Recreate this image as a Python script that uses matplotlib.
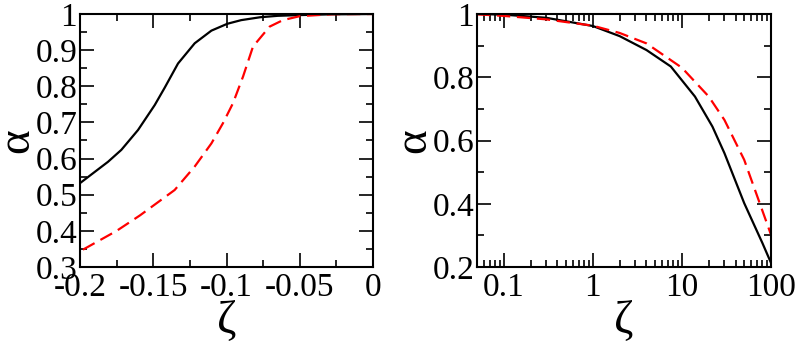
import numpy as np
import matplotlib
matplotlib.use('Agg')
import matplotlib.pyplot as plt
from matplotlib.ticker import MultipleLocator, LogLocator, FixedLocator, FixedFormatter, NullFormatter

plt.rcParams['font.family'] = ['Liberation Serif', 'DejaVu Serif']
plt.rcParams['axes.unicode_minus'] = False

# left panel (zeta < 0)
zl_black = [-0.2, -0.1809, -0.1718, -0.1604, -0.149, -0.1422, -0.1331, -0.1217, -0.1103,
            -0.0994, -0.09, -0.0771, -0.065, -0.05, -0.03, 0.0]
al_black = [0.532, 0.591, 0.624, 0.679, 0.748, 0.796, 0.863, 0.919, 0.954,
            0.973, 0.983, 0.991, 0.995, 0.997, 0.999, 1.0]
zl_red = [-0.198, -0.175, -0.159, -0.1354, -0.1217, -0.1103, -0.1024, -0.0956,
          -0.0887, -0.0819, -0.0706, -0.0615, -0.05, -0.0273, 0.0]
al_red = [0.348, 0.40, 0.443, 0.513, 0.578, 0.642, 0.698, 0.753,
          0.827, 0.91, 0.965, 0.983, 0.994, 0.9995, 1.0]

# right panel (zeta > 0, log scale)
zr_black = [0.05, 0.1, 0.3, 1, 2, 4, 7.5, 14, 22, 30, 50, 80, 100]
ar_black = [1.0, 0.998, 0.988, 0.962, 0.93, 0.886, 0.834, 0.739, 0.644, 0.56, 0.402, 0.276, 0.213]
zr_red = [0.05, 0.1, 0.3, 1, 2, 4, 10, 20, 30, 50, 100]
ar_red = [0.999, 0.994, 0.983, 0.963, 0.94, 0.907, 0.83, 0.739, 0.665, 0.539, 0.302]

fig = plt.figure(figsize=(7.97, 3.51), dpi=100)
ax1 = fig.add_axes([80/797, 84/351, 293/797, 253/351])
ax2 = fig.add_axes([477/797, 84/351, 294/797, 253/351])

for ax in (ax1, ax2):
    ax.tick_params(which='both', direction='in', top=True, right=True, labelsize=24, width=1.2)
    ax.tick_params(which='major', length=10)
    ax.tick_params(which='minor', length=5)
    for s in ax.spines.values():
        s.set_linewidth(1.5)

ax1.plot(zl_black, al_black, color='black', lw=1.6)
ax1.plot(zl_red, al_red, color='red', lw=1.6, ls=(0, (6, 3)))
ax1.set_xlim(-0.2, 0)
ax1.set_ylim(0.3, 1)
ax1.xaxis.set_minor_locator(MultipleLocator(0.025))
ax1.yaxis.set_minor_locator(MultipleLocator(0.05))
ax1.set_xticks([-0.2, -0.15, -0.1, -0.05, 0])
ax1.set_xticklabels(['-0.2', '-0.15', '-0.1', '-0.05', '0'])
ax1.set_yticks([0.3, 0.4, 0.5, 0.6, 0.7, 0.8, 0.9, 1.0])
ax1.set_yticklabels(['0.3', '0.4', '0.5', '0.6', '0.7', '0.8', '0.9', '1'])
ax1.tick_params(axis='x', pad=4)
ax1.tick_params(axis='y', pad=2)
ax1.set_xlabel('ζ', fontsize=34, labelpad=-2)
ax1.set_ylabel('α', fontsize=34, labelpad=-2)

ax2.plot(zr_black, ar_black, color='black', lw=1.6)
ax2.plot(zr_red, ar_red, color='red', lw=1.6, ls=(0, (6, 3)))
ax2.set_xscale('log')
ax2.set_xlim(0.05, 100)
ax2.set_ylim(0.2, 1)
ax2.xaxis.set_major_locator(FixedLocator([0.1, 1, 10, 100]))
ax2.xaxis.set_major_formatter(FixedFormatter(['0.1', '1', '10', '100']))
ax2.xaxis.set_minor_locator(LogLocator(base=10, subs=np.arange(2, 10), numticks=20))
ax2.xaxis.set_minor_formatter(NullFormatter())
ax2.set_yticks([0.2, 0.4, 0.6, 0.8, 1.0])
ax2.set_yticklabels(['0.2', '0.4', '0.6', '0.8', '1'])
ax2.yaxis.set_minor_locator(MultipleLocator(0.1))
ax2.tick_params(axis='x', pad=4)
ax2.tick_params(axis='y', pad=2)
ax2.set_xlabel('ζ', fontsize=34, labelpad=-2)
ax2.set_ylabel('α', fontsize=34, labelpad=-2)

plt.savefig('out.png', dpi=100)
